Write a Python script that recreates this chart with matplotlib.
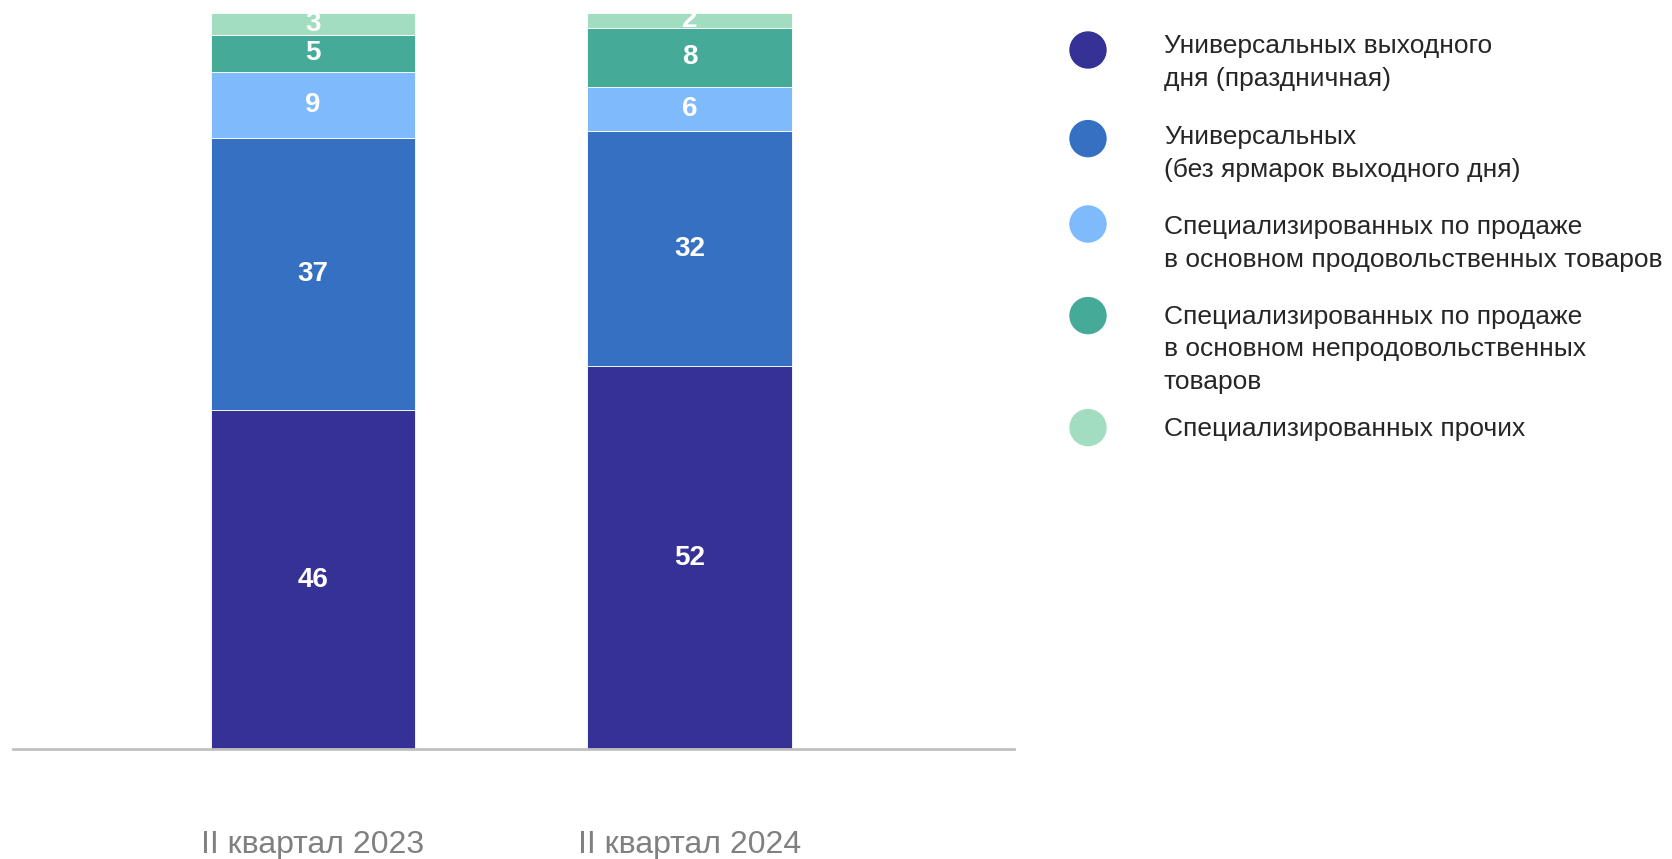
import matplotlib.pyplot as plt
from matplotlib.patches import Ellipse

plt.rcParams["font.family"] = ["Liberation Sans", "DejaVu Sans"]

# =====================================================================
# Данные
# =====================================================================

periods = ["II квартал 2023", "II квартал 2024"]
series_names = [
    "Универсальных выходного\nдня (праздничная)",
    "Универсальных\n(без ярмарок выходного дня)",
    "Специализированных по продаже\nв основном продовольственных товаров",
    "Специализированных по продаже\nв основном непродовольственных\nтоваров",
    "Специализированных прочих",
]
universal_weekend = [46, 52]
universal_other = [37, 32]
spec_food = [9, 6]
spec_nonfood = [5, 8]
spec_other = [3, 2]
series_values = [universal_weekend, universal_other, spec_food, spec_nonfood, spec_other]

colors = ["#353195", "#3670C2", "#7FBAFC", "#45AA97", "#A3DDBF"]

# =====================================================================
# Рисунок
# =====================================================================

W, H = 1672, 859
fig = plt.figure(figsize=(W / 100, H / 100), dpi=100)
ax = fig.add_axes([13 / W, (H - 749) / H, 1001 / W, 736 / H])

x = range(len(periods))
bottom = [0] * len(periods)
for vals, col in zip(series_values, colors):
    bars = ax.bar(x, vals, width=0.542, bottom=bottom, color=col,
                  edgecolor="white", linewidth=0.6)
    for b, v in zip(bars, vals):
        ax.text(b.get_x() + b.get_width() / 2, b.get_y() + b.get_height() / 2,
                str(v), ha="center", va="center", color="white",
                fontsize=20, fontweight="bold")
    bottom = [b0 + v for b0, v in zip(bottom, vals)]

ax.set_xlim(-0.797, 1.862)
ax.set_ylim(0, 100)
ax.axhline(0, color="#c0c0c0", linewidth=2, clip_on=False)
for s in ax.spines.values():
    s.set_visible(False)
ax.set_yticks([])
ax.set_xticks(list(x))
ax.set_xticklabels(periods, fontsize=23, color="#808080")
ax.tick_params(axis="x", length=0, pad=58)

# легенда
circle_y = [50, 138.6, 224, 315.6, 427.6]
text_y = [45, 136.5, 226, 315.6, 427.6]
for name, col, cy, ty in zip(series_names, colors, circle_y, text_y):
    fig.patches.append(Ellipse((1088 / W, 1 - cy / H), 36 / W, 36 / H,
                               transform=fig.transFigure, color=col))
    fig.text(1164 / W, 1 - (ty - 11) / H, name, ha="left", va="top",
             fontsize=19, color="#262626", linespacing=1.45)

fig.savefig("out.png", dpi=100)
